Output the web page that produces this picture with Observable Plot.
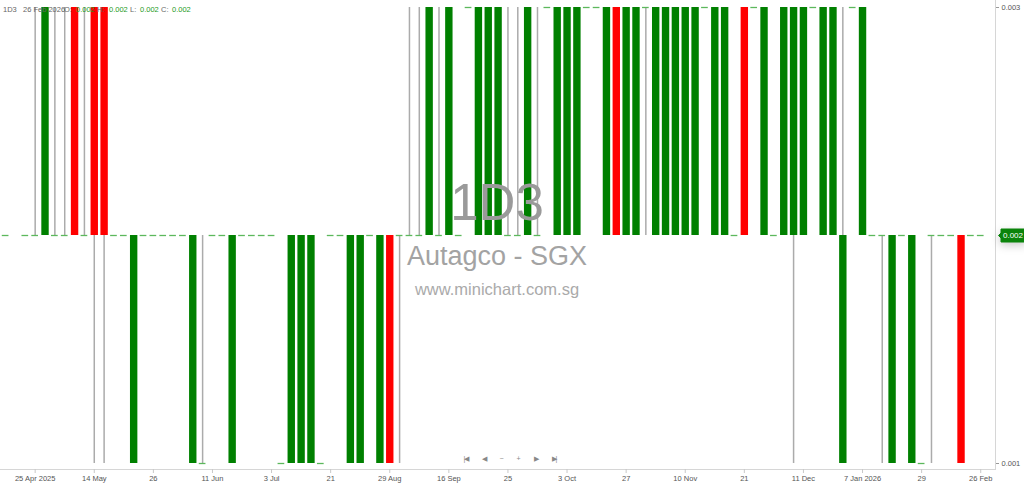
<!DOCTYPE html>
<html><head><meta charset="utf-8">
<script src="https://cdn.jsdelivr.net/npm/d3@7"></script>
<script src="https://cdn.jsdelivr.net/npm/@observablehq/plot@0.6"></script>
<style>
body{margin:0;background:#fff;font-family:"Liberation Sans",Arial,sans-serif;}
#wrap{position:relative;width:1024px;height:484px;overflow:hidden;background:#fff}
#chart{position:absolute;left:0;top:0}
.ov{position:absolute;white-space:nowrap;pointer-events:none}
.wm{left:0;width:994px;text-align:center}
.lg{top:5px;font-size:7.5px;line-height:9px;color:#666}
.nav{top:454px;font-size:7px;line-height:10px;color:#888;text-align:center;width:14px;letter-spacing:-1px}
svg [aria-label=tip] text{fill:#fff}
svg [aria-label=tip]{filter:none !important}
</style></head><body>
<div id="wrap">
<div id="chart"></div>
<div class="ov wm" style="top:176.8px;font-size:51px;line-height:51px;color:#9a9a9a">1D3</div>
<div class="ov wm" style="top:243px;font-size:27px;line-height:27px;color:#a3a3a3">Autagco - SGX</div>
<div class="ov wm" style="top:281px;font-size:16.5px;line-height:16.5px;color:#aaaaaa">www.minichart.com.sg</div>
<div id="legend"></div>
<div id="navbar"></div>
</div>
<script>
// Candle data (one entry per trading bar, null = no bar)
const opens  = [0.002,null,0.002,0.002,0.002,0.002,0.002,0.003,0.002,0.003,0.003,0.002,0.002,0.001,0.002,0.002,0.002,0.002,0.002,0.001,
                0.001,0.002,0.002,0.001,0.002,0.002,0.002,0.002,0.001,0.001,0.001,0.001,0.001,0.002,0.002,0.001,0.001,0.002,0.001,0.002,
                0.002,0.002,0.002,0.002,0.002,0.002,0.002,0.003,0.002,0.002,0.002,0.002,0.002,0.002,0.002,0.003,0.002,0.002,0.002,0.003,
                0.003,0.002,0.003,0.002,0.002,0.003,0.002,0.002,0.002,0.002,0.002,0.003,0.002,0.002,0.002,0.003,0.003,0.002,0.002,0.002,
                0.002,0.002,0.003,0.002,0.002,0.001,0.003,0.002,0.002,0.002,0.001,0.002,0.001,0.001,0.002,0.002,0.002,0.002,0.002,0.002];
const highs  = [0.002,null,0.002,0.003,0.003,0.003,0.003,0.003,0.003,0.003,0.003,0.002,0.002,0.002,0.002,0.002,0.002,0.002,0.002,0.002,
                0.002,0.002,0.002,0.002,0.002,0.002,0.002,0.002,0.001,0.002,0.002,0.002,0.001,0.002,0.002,0.002,0.002,0.002,0.002,0.002,
                0.002,0.003,0.003,0.003,0.003,0.003,0.002,0.003,0.003,0.003,0.003,0.003,0.003,0.003,0.003,0.003,0.003,0.003,0.003,0.003,
                0.003,0.003,0.003,0.003,0.003,0.003,0.003,0.003,0.003,0.003,0.003,0.003,0.003,0.003,0.002,0.003,0.003,0.003,0.002,0.003,
                0.003,0.003,0.003,0.003,0.003,0.003,0.003,0.003,0.002,0.002,0.002,0.002,0.002,0.001,0.002,0.002,0.002,0.002,0.002,0.002];
const lows   = [0.002,null,0.002,0.002,0.002,0.002,0.002,0.002,0.002,0.001,0.001,0.002,0.002,0.001,0.002,0.002,0.002,0.002,0.002,0.001,
                0.001,0.002,0.002,0.001,0.002,0.002,0.002,0.002,0.001,0.001,0.001,0.001,0.001,0.002,0.002,0.001,0.001,0.002,0.001,0.001,
                0.001,0.002,0.002,0.002,0.002,0.002,0.002,0.003,0.002,0.002,0.002,0.002,0.002,0.002,0.002,0.003,0.002,0.002,0.002,0.003,
                0.003,0.002,0.002,0.002,0.002,0.002,0.002,0.002,0.002,0.002,0.002,0.003,0.002,0.002,0.002,0.002,0.003,0.002,0.002,0.002,
                0.001,0.002,0.003,0.002,0.002,0.001,0.003,0.002,0.002,0.001,0.001,0.002,0.001,0.001,0.001,0.002,0.002,0.001,0.002,0.002];
const closes = [0.002,null,0.002,0.002,0.003,0.002,0.002,0.002,0.002,0.002,0.002,0.002,0.002,0.002,0.002,0.002,0.002,0.002,0.002,0.002,
                0.001,0.002,0.002,0.002,0.002,0.002,0.002,0.002,0.001,0.002,0.002,0.002,0.001,0.002,0.002,0.002,0.002,0.002,0.002,0.001,
                0.002,0.002,0.002,0.003,0.002,0.003,0.002,0.003,0.003,0.003,0.003,0.002,0.002,0.003,0.002,0.003,0.003,0.003,0.003,0.003,
                0.003,0.003,0.002,0.003,0.003,0.003,0.003,0.003,0.003,0.003,0.003,0.003,0.003,0.003,0.002,0.002,0.003,0.003,0.002,0.003,
                0.003,0.003,0.003,0.003,0.003,0.002,0.003,0.003,0.002,0.002,0.002,0.002,0.002,0.001,0.002,0.002,0.002,0.001,0.002,0.002];

// x-axis labels and the bar each one sits under
const tickLabels = ["25 Apr 2025","14 May","26","11 Jun","3 Jul","21","29 Aug","16 Sep","25","3 Oct","27","10 Nov","21","11 Dec","7 Jan 2026","29","26 Feb"];
const tickBars   = [3,9,15,21,27,33,39,45,51,57,63,69,75,81,87,93,99];
const priceTicks = [0.001,0.003];

// header legend
const legendSymbol = "1D3";
const legendDate = "26 Feb 2026";
const legendOHLC = [["O:",0.002],["H:",0.002],["L:",0.002],["C:",0.002]];

const bars = opens.map((o,i)=> o==null ? null : {i, open:o, high:highs[i], low:lows[i], close:closes[i]}).filter(d=>d);
const up = bars.filter(d=>d.close>d.open);
const down = bars.filter(d=>d.close<d.open);
const flat = bars.filter(d=>d.close===d.open);
const wicks = bars.filter(d=>d.high>d.low);
const last = bars[bars.length-1];
const fmt = d3.format(".3f");

const chart = Plot.plot({
  width:1024, height:484,
  marginTop:0, marginLeft:0, marginRight:29, marginBottom:15,
  x:{type:"linear", domain:[-0.52,100.5], range:[0,995]},
  y:{domain:[0.001,0.003], range:[463,7]},
  style:{fontFamily:"Liberation Sans, Arial, sans-serif", fontSize:"7.5px", color:"#555", background:"transparent", overflow:"visible"},
  marks:[
    Plot.frame({anchor:"right", stroke:"#d6d6d6"}),
    Plot.frame({anchor:"bottom", stroke:"#d6d6d6"}),
    Plot.ruleX(wicks, {x:"i", y1:"low", y2:"high", stroke:"#ababab", strokeWidth:1.5}),
    Plot.ruleY(flat, {y:"close", x1:d=>d.i-0.34, x2:d=>d.i+0.34, stroke:"#5cb85c", strokeWidth:1.3}),
    Plot.ruleX(up, {x:"i", y1:"open", y2:"close", stroke:"#008000", strokeWidth:7.4}),
    Plot.ruleX(down, {x:"i", y1:"open", y2:"close", stroke:"#ff0000", strokeWidth:7.4}),
    Plot.axisX({ticks:tickBars, tickFormat:d=>tickLabels[tickBars.indexOf(d)], tickSize:4, tickPadding:2, stroke:"#c8c8c8", fill:"#555", label:null}),
    Plot.axisY({anchor:"right", ticks:priceTicks, tickFormat:fmt, tickSize:3, tickPadding:3, stroke:"#999", fill:"#555", label:null}),
    Plot.tip([last], {y:"close", frameAnchor:"right", anchor:"left", dx:3, title:d=>fmt(d.close),
      fill:"#0b840b", stroke:"#0b840b", pointerSize:5, textPadding:2, fontSize:8})
  ]
});
document.getElementById("chart").appendChild(chart);

// legend
const lg = document.getElementById("legend");
const legendPos = [3,23,64,76,97,109,130,140,161,172];
const parts = [[legendSymbol,false],[legendDate,false]];
legendOHLC.forEach(([k,v])=>{parts.push([k,false]);parts.push([fmt(v),true]);});
parts.forEach(([t,isV],k)=>{
  const s=document.createElement("span");
  s.className="ov lg";
  s.style.left=legendPos[k]+"px";
  if(isV) s.style.color="#1e9a1e";
  s.textContent=t; lg.appendChild(s);
});

// navigation glyphs
const navGlyphs = ["|◀","◀","−","+","▶","▶|"];
const navX = [466,484,501,518,536,554];
const nb = document.getElementById("navbar");
navGlyphs.forEach((g,k)=>{
  const s=document.createElement("span");
  s.className="ov nav";
  s.style.left=(navX[k]-7)+"px";
  s.textContent=g; nb.appendChild(s);
});
</script>
</body></html>
